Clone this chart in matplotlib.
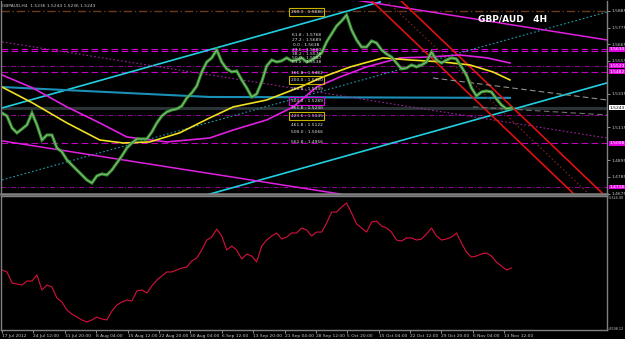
import matplotlib.pyplot as plt
import matplotlib.transforms as mtransforms

# 4H bars, one sample every 7 bars
bars = list(range(0, 715, 7))

price = [1.5209, 1.5189, 1.5110, 1.5077, 1.5103, 1.5130, 1.5209, 1.5130, 1.5030, 1.5063,
         1.5063, 1.4977, 1.4951, 1.4898, 1.4864, 1.4831, 1.4798, 1.4765, 1.4745, 1.4792,
         1.4805, 1.4798, 1.4831, 1.4878, 1.4924, 1.4977, 1.5010, 1.5037, 1.5037, 1.5037,
         1.5083, 1.5143, 1.5189, 1.5216, 1.5229, 1.5236, 1.5255, 1.5308, 1.5342, 1.5388,
         1.5481, 1.5547, 1.5574, 1.5627, 1.5547, 1.5501, 1.5481, 1.5487, 1.5428, 1.5375,
         1.5315, 1.5335, 1.5414, 1.5521, 1.5560, 1.5547, 1.5554, 1.5574, 1.5554, 1.5560,
         1.5574, 1.5547, 1.5560, 1.5580, 1.5607, 1.5680, 1.5733, 1.5786, 1.5819, 1.5858,
         1.5759, 1.5693, 1.5646, 1.5646, 1.5686, 1.5673, 1.5627, 1.5600, 1.5580, 1.5540,
         1.5501, 1.5507, 1.5527, 1.5514, 1.5527, 1.5547, 1.5613, 1.5560, 1.5540, 1.5560,
         1.5574, 1.5567, 1.5514, 1.5461, 1.5375, 1.5322, 1.5348, 1.5355, 1.5348, 1.5302,
         1.5262, 1.5236, 1.5243]

indicator = [-6029, -6048, -6155, -6164, -6174, -6135, -6135, -6077, -6222, -6174,
             -6193, -6299, -6338, -6415, -6454, -6483, -6511, -6531, -6511, -6483,
             -6502, -6511, -6425, -6367, -6338, -6319, -6328, -6232, -6222, -6251,
             -6183, -6126, -6087, -6048, -6048, -6029, -6010, -6000, -5942, -5913,
             -5836, -5740, -5711, -5634, -5701, -5836, -5798, -5836, -5923, -5875,
             -5894, -5952, -5798, -5740, -5701, -5672, -5730, -5711, -5672, -5672,
             -5624, -5643, -5701, -5663, -5663, -5576, -5470, -5470, -5421, -5383,
             -5479, -5585, -5624, -5663, -5566, -5557, -5605, -5624, -5663, -5740,
             -5749, -5720, -5720, -5740, -5730, -5682, -5624, -5701, -5740, -5730,
             -5711, -5672, -5769, -5856, -5904, -5894, -5875, -5865, -5894, -5952,
             -5991, -6029, -6010]

ma_yellow_x = [0, 43, 91, 137, 170, 207, 249, 291, 324, 371, 418, 450, 488, 534, 572, 618, 656, 688, 712]
ma_yellow = [1.5381, 1.5275, 1.5143, 1.5030, 1.5010, 1.5017, 1.5077, 1.5176, 1.5249, 1.5295,
             1.5381, 1.5448, 1.5514, 1.5574, 1.5560, 1.5547, 1.5527, 1.5481, 1.5428]

ma_magenta_x = [0, 43, 91, 137, 175, 231, 291, 324, 371, 408, 441, 474, 511, 558, 600, 642, 680, 712]
ma_magenta = [1.5461, 1.5375, 1.5249, 1.5143, 1.5050, 1.5017, 1.5043, 1.5096, 1.5163, 1.5249,
              1.5381, 1.5448, 1.5514, 1.5574, 1.5580, 1.5593, 1.5574, 1.5540]

date_labels = ['17 Jul 2012', '24 Jul 12:00', '31 Jul 20:00', '8 Aug 04:00', '15 Aug 12:00',
               '22 Aug 20:00', '30 Aug 04:00', '6 Sep 12:00', '13 Sep 20:00', '21 Sep 04:00',
               '28 Sep 12:00', '5 Oct 20:00', '15 Oct 04:00', '22 Oct 12:00', '29 Oct 20:00',
               '6 Nov 04:00', '13 Nov 12:00']
date_ticks = [44 * i for i in range(len(date_labels))]

price_ticks = [1.5885, 1.5775, 1.5665, 1.5555, 1.5335, 1.5115, 1.4895, 1.4785, 1.4675]
magenta_levels = [1.5630, 1.5523, 1.5482, 1.5008, 1.4718]
last_price = 1.5243

# fib text: (label, price position, box colour or None)
fib_texts = [("200.0 : 1.5886", 1.5878, '#c8b400'),
             ("61.8 : 1.5768", 1.5726, None), ("27.2 : 1.5689", 1.5693, None),
             ("0.0 : 1.5638", 1.5660, None), ("23.6 : 1.5600", 1.5627, None),
             ("38.2 : 1.5576", 1.5600, None), ("50.0 : 1.5557", 1.5574, None),
             ("61.8 : 1.5538", 1.5547, None), ("161.8 : 1.5482", 1.5474, None),
             ("200.0 : 1.5420", 1.5428, '#c8b400'), ("261.8 : 1.5339", 1.5368, None),
             ("300.0 : 1.5289", 1.5289, '#e000e0'), ("361.8 : 1.5230", 1.5242, None),
             ("423.6 : 1.5145", 1.5189, '#c8b400'), ("461.8 : 1.5122", 1.5129, None),
             ("500.0 : 1.5066", 1.5083, None), ("561.8 : 1.4956", 1.5017, None)]

bg = '#000000'
grid_col = '#808080'
txt_col = '#c8c8c8'
fs = 3.2

fig = plt.figure(figsize=(6.25, 3.39), dpi=100, facecolor=bg)
ax = fig.add_axes([1/625, 1 - 194/339, 606/625, 193/339], facecolor=bg)
ax2 = fig.add_axes([1/625, 1 - 330/339, 606/625, 134/339], facecolor=bg, sharex=ax)

ax.set_xlim(-1.4, 848)
ax.set_ylim(1.4672, 1.5951)
ax2.set_ylim(-6608, -5315)

# horizontal levels
ax.axhline(1.5885, color='#6a3a1a', lw=1, ls=(0, (6, 2, 1, 2)))
ax.axhline(1.5630, color='#d000d0', lw=0.8, ls=(0, (6, 3)))
ax.axhline(1.5618, color='#d000d0', lw=0.8, ls=(0, (6, 3)))
ax.axhline(1.5523, color='#9a009a', lw=0.7, ls=(0, (5, 2, 1, 2)))
ax.axhline(1.5482, color='#c000c0', lw=0.8, ls=(0, (6, 3)))
ax.axhline(1.5196, color='#9a009a', lw=0.7, ls=(0, (5, 2, 1, 2)))
ax.axhline(1.5008, color='#c000c0', lw=0.8, ls=(0, (6, 3)))
ax.axhline(1.4718, color='#9a009a', lw=0.7, ls=(0, (5, 2, 1, 2)))
ax.axhline(last_price, color='#2a3436', lw=2.2)

# trend lines
ax.plot([0, 530], [1.5242, 1.5945], color='#20d0e0', lw=1.2)
ax.plot([287, 848], [1.4666, 1.5408], color='#20d0e0', lw=1.2)
ax.plot([0, 848], [1.4765, 1.5878], color='#1fa0b0', lw=0.8, ls=(0, (1.5, 2)))
ax.plot([0, 291, 712], [1.5381, 1.5315, 1.5309], color='#1a90b8', lw=1.5)
ax.plot([0, 474], [1.5024, 1.4672], color='#e020e0', lw=1.1)
ax.plot([495, 848], [1.5958, 1.5693], color='#e020e0', lw=1.1)
ax.plot([0, 848], [1.5680, 1.5043], color='#a020a0', lw=0.8, ls=(0, (1.5, 2)))
ax.plot([517, 800], [1.5958, 1.4679], color='#e01010', lw=1.2)
ax.plot([558, 841], [1.5958, 1.4679], color='#e01010', lw=1.2)
ax.plot([538, 821], [1.5958, 1.4679], color='#802020', lw=0.8, ls=(0, (1.5, 2)))
ax.plot([604, 848], [1.5441, 1.5295], color='#909090', lw=0.8, ls=(0, (5, 3)))
ax.plot([660, 848], [1.5249, 1.5196], color='#707070', lw=0.8, ls=(0, (5, 3)))

# moving averages
ax.plot(ma_magenta_x, ma_magenta, color='#e020e0', lw=1.2)
ax.plot(ma_yellow_x, ma_yellow, color='#f0e020', lw=1.2)

# price
ax.plot(bars, price, color='#2f9a25', lw=2.2, solid_joinstyle='miter')
ax.plot(bars, price, color='#b8b8b8', lw=0.5)

# fib labels
for lab, yv, box in fib_texts:
    kw = {}
    if box:
        kw['bbox'] = dict(facecolor='none', edgecolor=box, lw=0.8, pad=1.2)
    ax.text(427, yv, lab, color='#e0e0e0', fontsize=fs, ha='center', va='center', **kw)

ax.text(0.787, 0.907, "GBP/AUD   4H", transform=ax.transAxes, color='white',
        fontsize=6.5, fontweight='bold', va='center', ha='left')
ax.text(0.002, 0.985, "GBPAUD,H4  1.5236 1.5244 1.5236 1.5243", transform=ax.transAxes,
        color=txt_col, fontsize=fs, va='top', ha='left')

# indicator
ax2.plot(bars, indicator, color='#d8103c', lw=0.8)

# axes styling
for a in (ax, ax2):
    for s in a.spines.values():
        s.set_color(grid_col)
        s.set_linewidth(1)
    a.spines['top'].set_visible(False)
    a.tick_params(colors=txt_col, labelsize=fs, length=2, width=0.5, pad=1)
    a.yaxis.tick_right()
ax.spines['bottom'].set_linewidth(1.8)
ax2.spines['top'].set_visible(True)

ax.set_yticks(price_ticks)
ax.set_yticklabels([f"{v:.4f}" for v in price_ticks])
ax.tick_params(axis='x', bottom=False, labelbottom=False)

ax2.set_yticks([-5324.90, -6598.12])
ax2.set_yticklabels(['-5324.90', '-6598.12'])
ax2.tick_params(axis='y', labelsize=2.4, pad=0.3, length=1)
ax2.set_xticks(date_ticks)
ax2.set_xticklabels(date_labels, ha='left')

trans = mtransforms.blended_transform_factory(ax.transAxes, ax.transData)
for lv in magenta_levels:
    ax.text(1.004, lv, f"{lv:.4f}", transform=trans, color='white', fontsize=fs,
            va='center', ha='left', bbox=dict(facecolor='#e000e0', edgecolor='none', pad=0.3))
ax.text(1.004, last_price, f"{last_price:.4f}", transform=trans, color='black', fontsize=fs,
        va='center', ha='left', bbox=dict(facecolor='white', edgecolor='none', pad=0.3))

fig.savefig('out.png', dpi=100, facecolor=bg)
